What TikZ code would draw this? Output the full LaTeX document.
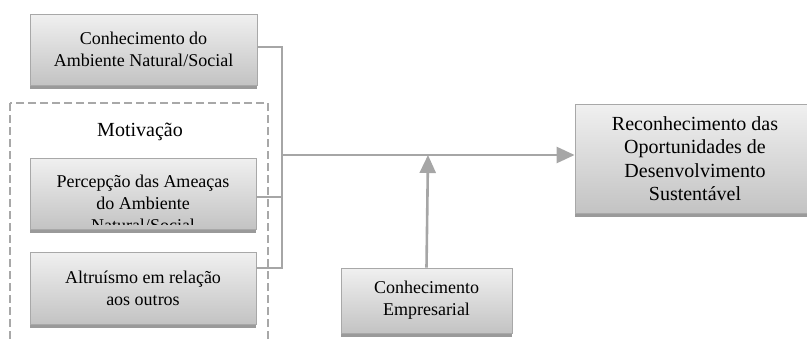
\documentclass[tikz,border=0pt]{standalone}
\usepackage{fontspec}
\setmainfont{Liberation Serif}
\usetikzlibrary{arrows.meta}
\definecolor{boxtop}{HTML}{F0F0F0}
\definecolor{boxbot}{HTML}{C3C3C3}
\definecolor{boxline}{HTML}{A8A8A8}
\definecolor{shadowc}{HTML}{9A9A9A}
\definecolor{linec}{HTML}{A6A6A6}
\tikzset{
  gbox/.style={draw=boxline, line width=0.8pt, top color=boxtop, bottom color=boxbot,
    inner sep=0pt, align=center, font=\fontsize{18}{22}\selectfont,
    preaction={fill=shadowc, draw=none, transform canvas={yshift=-4pt}}},
  conn/.style={draw=linec, line width=2.6pt},
  arr/.style={draw=linec, line width=2.6pt, -{Triangle[length=18pt,width=16pt]}},
  txt/.style={align=center, inner sep=0pt, font=\fontsize{18}{22}\selectfont},
  dashbox/.style={draw=boxline, line width=1.6pt, dash pattern=on 8pt off 4pt}
}
\begin{document}
\begin{tikzpicture}[x=1pt,y=-1pt]
\useasboundingbox (0,0) rectangle (807,340);
% dashed group frame
\draw[dashbox] (10,103) rectangle (268,350);
\node[txt, font=\fontsize{20}{24}\selectfont] (mot) at (140,132) {Motivação};
% boxes
\node[gbox, minimum width=227pt, minimum height=71pt] (b1) at (143.5,49.5)
  {Conhecimento do\\Ambiente Natural/Social};
\node[gbox, minimum width=226pt, minimum height=71pt] (b2) at (143,193.5) {};
\begin{scope}
  \clip (30,158) rectangle (256,224);
  \node[txt] (b2t) at (143,203) {Percepção das Ameaças\\do Ambiente\\Natural/Social};
\end{scope}
\node[gbox, minimum width=226pt, minimum height=72pt] (b3) at (143,288)
  {Altruísmo em relação\\aos outros};
\node[gbox, minimum width=240pt, minimum height=109pt, font=\fontsize{20}{23.5}\selectfont] (b4) at (695,158.5)
  {Reconhecimento das\\Oportunidades de\\Desenvolvimento\\Sustentável};
\node[gbox, minimum width=171pt, minimum height=65pt] (b5) at (426.5,300.5)
  {Conhecimento\\Empresarial};
% bracket
\coordinate (jt) at (282,47);
\coordinate (jb) at (282,268);
\coordinate (jm) at (282,155);
\coordinate (jv) at (428,155);
\draw[conn, line width=2pt] (b1.east |- jt) -- (jt);
\draw[conn, line width=2pt] (b2.east |- 0,197) -- (282,197);
\draw[conn, line width=2pt] (b3.east |- jb) -- (jb);
\draw[conn, line cap=rect] (jt) -- (jb);
\draw[arr] (jm) -- (b4.west |- jm);
\draw[arr] (b5.north) -- (jv);
\end{tikzpicture}
\end{document}
